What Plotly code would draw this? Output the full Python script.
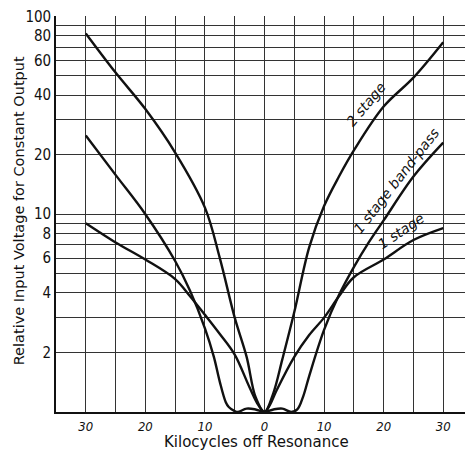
import math
import plotly.graph_objects as go

# ---- data ----
two_stage_kc = [-30, -25, -20, -15, -10, -7.5, -5, -3, -1.5, 0, 1.5, 3, 5, 7.5, 10, 12.5, 15, 20, 25, 30]
two_stage_v = [82, 52, 34, 20.5, 10.8, 6.0, 3.0, 1.9, 1.19, 1.0, 1.25, 1.85, 3.2, 6.8, 11, 15.5, 21, 35, 49, 74]

band_pass_kc = [-30, -25, -20, -15, -12.5, -10, -8.5, -7.5, -6.5, -6, -5, -4.5, -3, -1.5, 0,
                1.5, 3, 4.5, 5.5, 6.5, 7.5, 10, 12.5, 15, 17.5, 20, 25, 30]
band_pass_v = [25, 15.8, 10, 5.8, 4.1, 2.65, 1.9, 1.42, 1.12, 1.06, 1.01, 1.0, 1.04, 1.03, 1.0,
               1.03, 1.04, 1.0, 1.03, 1.2, 1.52, 2.6, 3.9, 5.4, 7.2, 9.3, 15.5, 23]

one_stage_kc = [-30, -25, -20, -15, -12.5, -10, -7.5, -5, -2.5, -1, 0, 1, 2, 5, 7.5, 10, 12.5, 15, 20, 25, 30]
one_stage_v = [9.0, 7.2, 5.9, 4.7, 3.85, 3.1, 2.48, 1.95, 1.33, 1.08, 1.0, 1.1, 1.28, 1.9, 2.45, 3.0, 3.85, 4.8, 5.9, 7.4, 8.5]

x_tickvals = [-30, -20, -10, 0, 10, 20, 30]
x_ticktext = ["30", "20", "10", "0", "10", "20", "30"]
x_minor_grid = [-35, -25, -15, -5, 5, 15, 25, 35]

y_gridvals = [2, 3, 4, 5, 6, 7, 8, 9, 10, 20, 30, 40, 50, 60, 70, 80, 90, 100]
y_labels = {2: "2", 4: "4", 6: "6", 8: "8", 10: "10", 20: "20", 40: "40", 60: "60", 80: "80", 100: "100"}

# text, kc, value, angle, xshift, yshift
curve_labels = [
    ("2 stage", 18.1, 33.5, -50, -6, 6),
    ("1 stage band-pass", 23.1, 13.7, -52, -6, 6),
    ("1 stage", 23.6, 7.56, -34, -4, 7),
]

x_title = "Kilocycles off Resonance"
y_title = "Relative Input Voltage for Constant Output"

# ---- figure ----
fig = go.Figure()
for xs, ys in [(two_stage_kc, two_stage_v), (band_pass_kc, band_pass_v), (one_stage_kc, one_stage_v)]:
    fig.add_trace(go.Scatter(x=xs, y=ys, mode="lines",
                             line=dict(color="#111111", width=2.4, shape="spline", smoothing=1.0),
                             showlegend=False, hoverinfo="skip"))

for text, x, y, ang, dx, dy in curve_labels:
    fig.add_annotation(x=x, y=math.log10(y), yref="y", xref="x", text=text, showarrow=False,
                       textangle=ang, xshift=dx, yshift=dy,
                       font=dict(family="DejaVu Sans", size=14, color="#111111", style="italic"))

fig.add_annotation(xref="paper", yref="paper", x=0.48, y=-0.075, text=x_title, showarrow=False,
                   xanchor="center", yanchor="middle",
                   font=dict(family="DejaVu Sans", size=15, color="#111111"))
fig.add_annotation(xref="paper", yref="paper", x=-0.09, y=0.508, text=y_title, showarrow=False,
                   xanchor="center", yanchor="middle", textangle=-90,
                   font=dict(family="DejaVu Sans", size=14.5, color="#111111"))

tick_font = dict(family="DejaVu Sans Condensed, DejaVu Sans", size=15, color="#111111")
fig.update_layout(
    width=465, height=444,
    margin=dict(l=48, r=0, t=8, b=40),
    paper_bgcolor="white", plot_bgcolor="white",
    xaxis=dict(range=[-35, 35], tickmode="array", tickvals=x_tickvals, ticktext=x_ticktext,
               tickfont=dict(family="DejaVu Sans Condensed, DejaVu Sans", size=13, color="#111111", style="italic"),
               showgrid=True, gridcolor="#333333", gridwidth=1.2,
               minor=dict(tickmode="array", tickvals=x_minor_grid,
                          showgrid=True, gridcolor="#333333", gridwidth=1.2),
               showline=True, linecolor="#111111", linewidth=1.6, zeroline=False,
               ticks="", ticklabelstandoff=2),
    yaxis=dict(type="log", range=[0, 2.002], tickmode="array", tickvals=y_gridvals,
               ticktext=[y_labels.get(v, "") for v in y_gridvals],
               tickfont=tick_font, ticklabeloverflow="allow",
               showgrid=True, gridcolor="#333333", gridwidth=1.2,
               showline=True, linecolor="#111111", linewidth=1.6, zeroline=False,
               ticks="", ticklabelstandoff=0),
)

fig.write_html("out.html")
